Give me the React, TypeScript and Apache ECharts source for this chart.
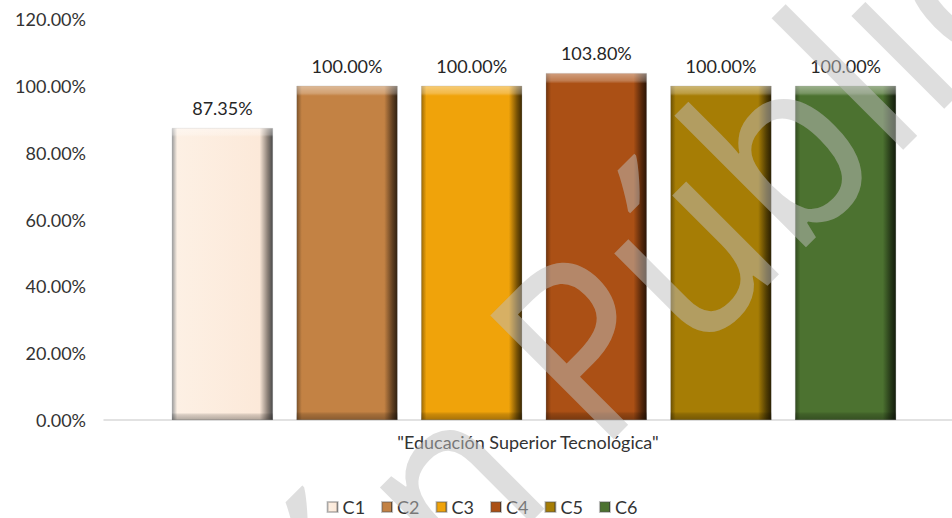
import React, { useEffect, useRef } from "react";
import * as echarts from "echarts";

const categories = ['"Educación Superior Tecnológica"'];
const seriesNames = ["C1", "C2", "C3", "C4", "C5", "C6"];
const seriesValues = [87.35, 100.0, 100.0, 103.8, 100.0, 100.0];
const seriesColors = ["#FCE9D9", "#C38244", "#F0A30A", "#AB5015", "#A67D05", "#4C7230"];
const yMin = 0;
const yMax = 120;
const yInterval = 20;
const watermarkParts = ["Versión ", "Pública"];

const FONT = "Lato, 'Open Sans', sans-serif";

function hexToRgb(h: string) {
  const n = parseInt(h.slice(1), 16);
  return [(n >> 16) & 255, (n >> 8) & 255, n & 255];
}
function shade(h: string, k: number) {
  const [r, g, b] = hexToRgb(h);
  const f = (c: number) => Math.round(c * (1 - k));
  return `rgb(${f(r)},${f(g)},${f(b)})`;
}
function tint(h: string, k: number) {
  const [r, g, b] = hexToRgb(h);
  const f = (c: number) => Math.round(c + (255 - c) * k);
  return `rgb(${f(r)},${f(g)},${f(b)})`;
}
function barGradient(base: string, i: number) {
  const leftEdge = i === 0 ? "#9C9C9C" : shade(base, 0.35);
  const rightEdge = i === 0 ? "#4A4A4A" : shade(base, 0.75);
  return new echarts.graphic.LinearGradient(0, 0, 1, 0, [
    { offset: 0, color: leftEdge },
    { offset: 0.05, color: i === 0 ? tint(base, 0.3) : base },
    { offset: 0.87, color: base },
    { offset: 0.95, color: shade(base, i === 0 ? 0.45 : 0.5) },
    { offset: 1, color: rightEdge },
  ]);
}
const bevelGradient = new echarts.graphic.LinearGradient(0, 0, 0, 1, [
  { offset: 0, color: "rgba(255,255,255,0.45)" },
  { offset: 0.022, color: "rgba(255,255,255,0.25)" },
  { offset: 0.03, color: "rgba(255,255,255,0)" },
  { offset: 0.975, color: "rgba(0,0,0,0)" },
  { offset: 0.982, color: "rgba(0,0,0,0.15)" },
  { offset: 1, color: "rgba(0,0,0,0.3)" },
]);

export default function App() {
  const ref = useRef<HTMLDivElement>(null);
  useEffect(() => {
    if (!ref.current) return;
    const chart = echarts.init(ref.current, undefined, { renderer: "svg" });
    const fmt = (v: number) => v.toFixed(2) + "%";
    const wmStyle = {
      x: 0,
      y: 0,
      verticalAlign: "bottom",
      font: "245px 'Noto Sans', sans-serif",
      fill: "rgba(190,190,190,0.5)",
    };
    const mainSeries = seriesNames.map((name, i) => ({
      name,
      type: "bar",
      xAxisIndex: 0,
      data: [seriesValues[i]],
      barWidth: 101,
      barGap: "23.4%",
      itemStyle: { color: barGradient(seriesColors[i], i), borderColor: "rgba(80,80,80,0.35)", borderWidth: 0.5 },
      label: {
        show: true,
        position: "top",
        distance: 11,
        formatter: (p: any) => fmt(p.value),
        fontSize: 18,
        color: "#262626",
        fontFamily: FONT,
      },
      z: 2,
    }));
    const bevelSeries = seriesNames.map((name, i) => ({
      name: name + " bevel",
      type: "bar",
      xAxisIndex: 1,
      data: [seriesValues[i]],
      barWidth: 101,
      barGap: "23.4%",
      silent: true,
      itemStyle: { color: bevelGradient },
      label: { show: false },
      z: 3,
    }));
    chart.setOption({
      animation: false,
      backgroundColor: "#FFFFFF",
      textStyle: { fontFamily: FONT },
      grid: { left: 104, right: 0, top: 19, bottom: 98, containLabel: false },
      legend: {
        data: seriesNames,
        top: 493,
        left: "center",
        icon: "rect",
        itemWidth: 10,
        itemHeight: 10,
        itemGap: 16,
        textStyle: { fontSize: 18, color: "#333333", fontFamily: FONT },
      },
      xAxis: [
        {
          type: "category",
          data: categories,
          axisLine: { show: true, lineStyle: { color: "#D9D9D9", width: 1.5 } },
          axisTick: { show: false },
          axisLabel: { fontSize: 18, color: "#333333", margin: 13, fontFamily: FONT, padding: [0, 12, 0, 0] },
        },
        { type: "category", data: categories, show: false },
      ],
      yAxis: {
        type: "value",
        min: yMin,
        max: yMax,
        interval: yInterval,
        splitLine: { show: false },
        axisLine: { show: false },
        axisTick: { show: false },
        axisLabel: { formatter: fmt, fontSize: 18, color: "#333333", margin: 18, fontFamily: FONT },
      },
      series: [...mainSeries, ...bevelSeries],
      graphic: [
        {
          type: "group",
          x: 618,
          y: 474,
          rotation: Math.PI / 4,
          scaleX: 0.915,
          scaleY: 1,
          z: 100,
          silent: true,
          children: [
            { type: "text", z: 100, style: { ...wmStyle, text: watermarkParts[0], align: "right" } },
            { type: "text", z: 100, style: { ...wmStyle, text: watermarkParts[1], align: "left" } },
          ],
        },
      ],
    });
    return () => chart.dispose();
  }, []);
  return (
    <div
      style={{ position: "fixed", left: 0, top: 0, width: 952, height: 518, overflow: "hidden", background: "#fff" }}
    >
      <div ref={ref} style={{ width: 964, height: 518 }} />
    </div>
  );
}
